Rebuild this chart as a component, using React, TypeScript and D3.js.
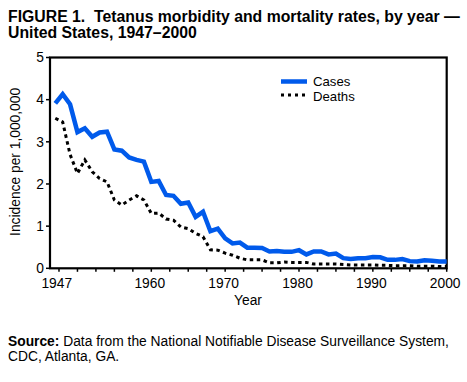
import React from "react";
import * as d3 from "d3";

const years: number[] = d3.range(1947, 2001);

const cases: number[] = [
  3.91, 4.13, 3.89, 3.23, 3.32, 3.12, 3.22, 3.24, 2.82, 2.79,
  2.63, 2.57, 2.53, 2.05, 2.07, 1.74, 1.72, 1.53, 1.56, 1.22,
  1.34, 0.88, 0.94, 0.71, 0.59, 0.61, 0.49, 0.49, 0.48, 0.40,
  0.41, 0.39, 0.39, 0.43, 0.33, 0.40, 0.40, 0.33, 0.35, 0.24,
  0.22, 0.24, 0.24, 0.27, 0.26, 0.20, 0.20, 0.22, 0.17, 0.16,
  0.19, 0.18, 0.16, 0.16,
];

const deaths: number[] = [
  3.56, 3.47, 2.70, 2.25, 2.57, 2.29, 2.13, 2.05, 1.62, 1.50,
  1.62, 1.72, 1.62, 1.30, 1.31, 1.17, 1.14, 0.98, 0.94, 0.83,
  0.75, 0.44, 0.43, 0.36, 0.31, 0.24, 0.20, 0.20, 0.20, 0.13,
  0.13, 0.15, 0.14, 0.14, 0.14, 0.10, 0.10, 0.10, 0.10, 0.09,
  0.08, 0.08, 0.08, 0.08, 0.07, 0.07, 0.06, 0.06, 0.06, 0.05,
  0.05, 0.05, 0.04, 0.04,
];

const yTicks: number[] = [0, 1, 2, 3, 4, 5];
const xTickMarks: number[] = d3.range(1947.5, 2000.01, 2.5);
const xTickLabels: number[] = [1947, 1960, 1970, 1980, 1990, 2000];

const FONT = "'Liberation Sans', Arial, Helvetica, sans-serif";
const BLUE = "#005aeb";
const FS = 13.8;

export default function App() {
  const W = 467;
  const H = 382;
  const left = 50;
  const right = 446.7;
  const top = 57.5;
  const bottom = 268.3;

  const x = d3.scaleLinear().domain([1947, 2000]).range([55.3, right]);
  const y = d3.scaleLinear().domain([0, 5]).range([bottom, top]);

  const line = d3
    .line<number>()
    .x((_, i) => x(years[i]))
    .y((d) => y(d))
    .curve(d3.curveLinear);

  return (
    <svg
      width={W}
      height={H}
      style={{ position: "absolute", left: 0, top: 0, background: "#fff" }}
      fontFamily={FONT}
    >
      <rect x={0} y={0} width={W} height={H} fill="#fff" />
      {/* Title */}
      <text x={8} y={22} fontSize={15.8} fontWeight="bold" fill="#000" xmlSpace="preserve">
        FIGURE 1.  Tetanus morbidity and mortality rates, by year —
      </text>
      <text x={8} y={37.5} fontSize={15.8} fontWeight="bold" fill="#000">
        United States, 1947–2000
      </text>

      {/* Frame */}
      <rect
        x={left}
        y={top}
        width={right - left}
        height={bottom - top}
        fill="none"
        stroke="#000"
        strokeWidth={2.2}
      />

      {/* Y ticks */}
      {yTicks.map((t) => (
        <g key={"y" + t}>
          <line x1={left - 4} x2={left} y1={y(t)} y2={y(t)} stroke="#000" strokeWidth={1.5} />
          <text x={left - 6} y={y(t) + 4.8} fontSize={FS} textAnchor="end" fill="#000">
            {t}
          </text>
        </g>
      ))}

      {/* X ticks */}
      {xTickMarks.map((t) => (
        <line
          key={"xt" + t}
          x1={x(t)}
          x2={x(t)}
          y1={bottom}
          y2={bottom + 3.5}
          stroke="#000"
          strokeWidth={1.5}
        />
      ))}
      {xTickLabels.map((t) => (
        <text
          key={"xl" + t}
          x={x(t === 1947 ? 1947.4 : t) - 1.5}
          y={287.5}
          fontSize={FS}
          textAnchor="middle"
          fill="#000"
        >
          {t}
        </text>
      ))}

      {/* Axis titles */}
      <text x={248} y={304.5} fontSize={FS} textAnchor="middle" fill="#000">
        Year
      </text>
      <text
        transform={`translate(20, ${(top + bottom) / 2 - 1}) rotate(-90)`}
        fontSize={FS}
        textAnchor="middle"
        fill="#000"
      >
        Incidence per 1,000,000
      </text>

      {/* Lines */}
      <path
        d={line(deaths) || ""}
        fill="none"
        stroke="#000"
        strokeWidth={3}
        strokeDasharray="3.5,3.5"
      />
      <path
        d={line(cases) || ""}
        fill="none"
        stroke={BLUE}
        strokeWidth={4.5}
        strokeLinejoin="miter"
      />

      {/* Legend */}
      <line x1={281} x2={307} y1={81.5} y2={81.5} stroke={BLUE} strokeWidth={4.5} />
      <text x={313} y={86} fontSize={13.2} fill="#000">
        Cases
      </text>
      <line
        x1={281}
        x2={307}
        y1={95}
        y2={95}
        stroke="#000"
        strokeWidth={3}
        strokeDasharray="3,4"
      />
      <text x={313} y={100.5} fontSize={13.2} fill="#000">
        Deaths
      </text>

      {/* Source */}
      <text x={8} y={346} fontSize={FS} fill="#000">
        <tspan fontWeight="bold">Source:</tspan>
        <tspan> Data from the National Notifiable Disease Surveillance System,</tspan>
      </text>
      <text x={8} y={360.5} fontSize={FS} fill="#000">
        CDC, Atlanta, GA.
      </text>
    </svg>
  );
}
